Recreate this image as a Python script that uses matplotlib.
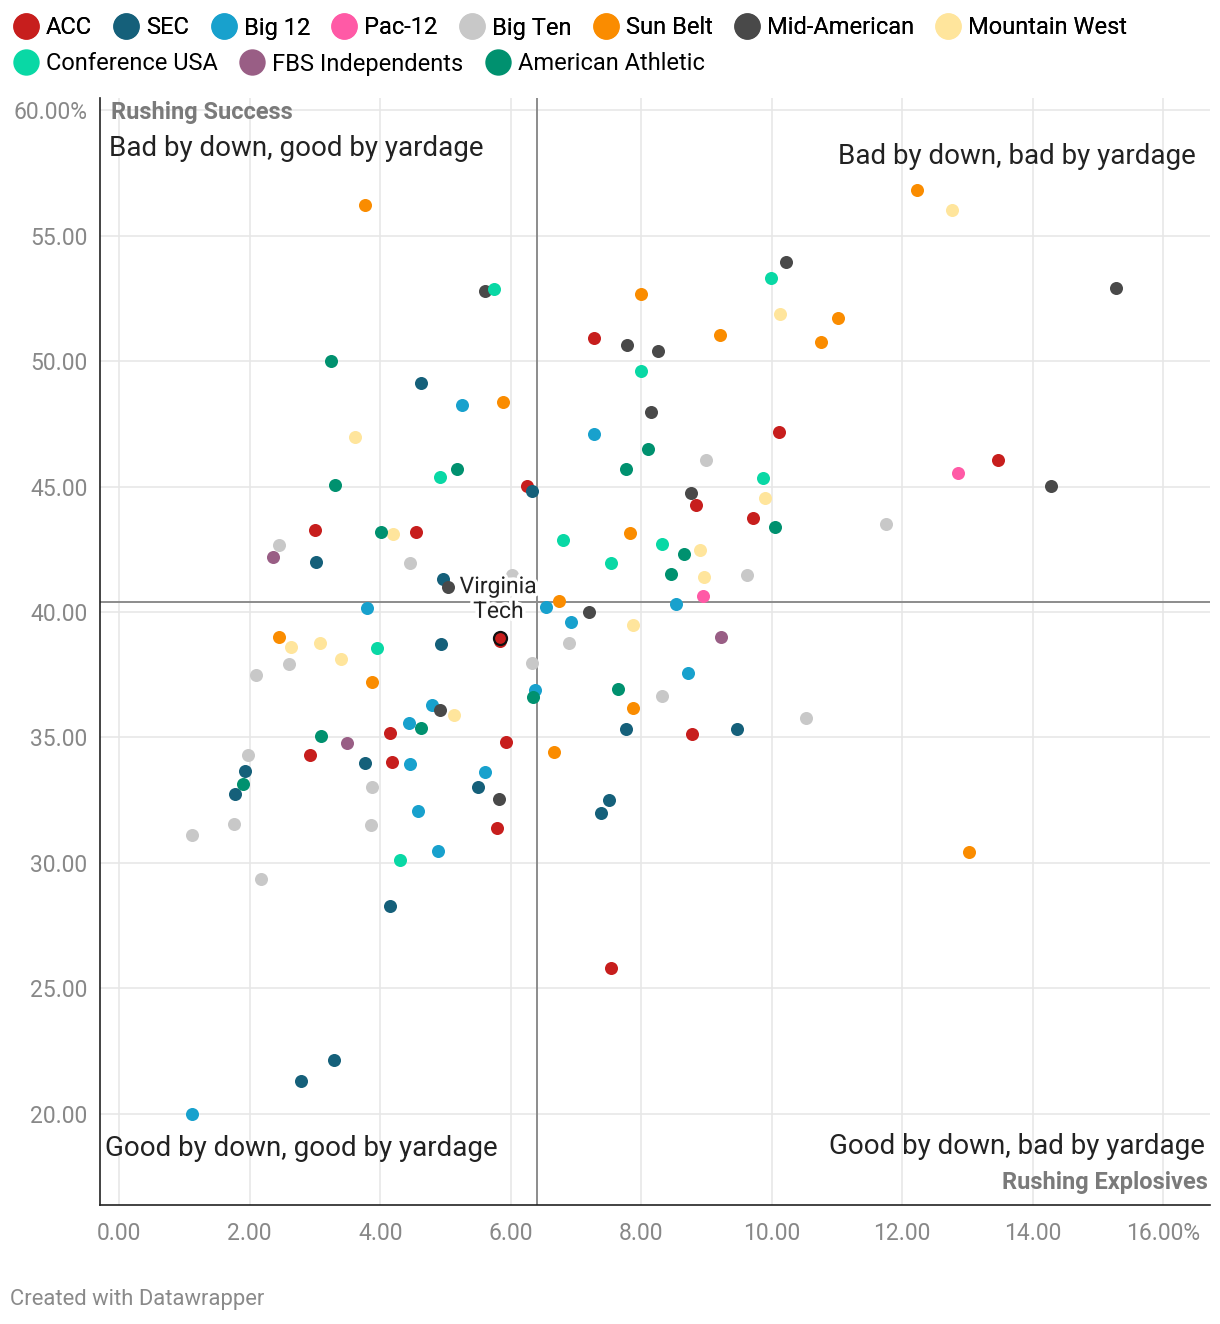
import matplotlib
matplotlib.use('Agg')
import matplotlib.pyplot as plt
from matplotlib.lines import Line2D
import matplotlib.patheffects as pe

plt.rcParams['font.family'] = ['Roboto', 'DejaVu Sans']

# conferenze e colori
conferences = ['ACC', 'SEC', 'Big 12', 'Pac-12', 'Big Ten', 'Sun Belt', 'Mid-American',
               'Mountain West', 'Conference USA', 'FBS Independents', 'American Athletic']
colors = ['#c71e1d', '#15607a', '#18a1cd', '#ff5aa6', '#c8c8c8', '#fa8c00', '#494949',
          '#ffe59c', '#09d8a5', '#995e85', '#00916f']

# x = rushing explosives (%), y = rushing success (%)
acc_x = [7.27, 10.11, 6.25, 8.84, 9.71, 3.00, 4.55, 13.47, 5.83, 4.15, 2.92, 4.18, 8.78, 5.93, 5.79, 7.53]
acc_y = [50.91, 47.19, 45.01, 44.25, 43.74, 43.28, 43.18, 46.06, 38.85, 35.17, 34.31, 34.03, 35.15, 34.81, 31.41, 25.83]
sec_x = [4.63, 6.32, 3.01, 4.96, 4.93, 3.77, 1.93, 1.78, 7.76, 9.47, 5.50, 7.50, 7.38, 4.15, 3.29, 2.79]
sec_y = [49.12, 44.81, 42.01, 41.32, 38.73, 33.97, 33.65, 32.75, 35.34, 35.34, 33.04, 32.50, 31.98, 28.29, 22.15, 21.31]
big12_x = [5.26, 7.28, 3.80, 6.54, 8.53, 6.93, 4.79, 4.44, 4.46, 4.58, 4.88, 6.38, 8.71, 5.61, 1.12]
big12_y = [48.25, 47.08, 40.15, 40.19, 40.31, 39.60, 36.31, 35.57, 33.93, 32.06, 30.49, 36.89, 37.58, 33.64, 20.01]
pac12_x = [8.94, 12.86]
pac12_y = [40.65, 45.53]
bigten_x = [8.99, 2.45, 4.46, 6.02, 9.62, 11.75, 6.90, 2.60, 2.09, 1.97, 3.88, 1.76, 3.86, 1.12, 2.18, 6.33, 8.32, 10.52]
bigten_y = [46.07, 42.67, 41.96, 41.48, 41.48, 43.52, 38.78, 37.92, 37.50, 34.31, 33.01, 31.57, 31.53, 31.10, 29.36, 37.98, 36.67, 35.79]
sunbelt_x = [3.76, 8.00, 11.01, 9.21, 10.76, 5.88, 12.22, 7.83, 6.74, 2.45, 3.88, 7.88, 6.67, 13.03]
sunbelt_y = [56.22, 52.66, 51.71, 51.05, 50.76, 48.37, 56.82, 43.14, 40.45, 39.02, 37.21, 36.19, 34.43, 30.44]
mac_x = [5.60, 10.22, 7.79, 8.26, 8.15, 15.27, 8.76, 14.28, 5.04, 7.20, 4.92, 5.82]
mac_y = [52.80, 53.96, 50.63, 50.40, 47.99, 52.93, 44.73, 45.04, 41.01, 40.00, 36.08, 32.56]
mw_x = [10.12, 12.76, 3.61, 4.19, 9.89, 8.90, 8.97, 7.88, 2.64, 3.07, 3.40, 5.13]
mw_y = [51.89, 56.02, 46.98, 43.11, 44.55, 42.47, 41.39, 39.48, 38.61, 38.78, 38.13, 35.91]
cusa_x = [5.75, 9.99, 8.00, 4.91, 9.87, 6.80, 8.32, 7.53, 3.95, 4.30]
cusa_y = [52.86, 53.31, 49.60, 45.39, 45.36, 42.86, 42.71, 41.94, 38.58, 30.12]
ind_x = [2.35, 9.22, 3.49]
ind_y = [42.18, 39.00, 34.78]
aac_x = [3.24, 3.31, 5.17, 4.01, 8.11, 7.76, 10.05, 8.65, 8.46, 3.10, 4.62, 1.89, 6.34, 7.64]
aac_y = [50.00, 45.05, 45.69, 43.20, 46.49, 45.69, 43.39, 42.31, 41.53, 35.06, 35.38, 33.14, 36.63, 36.95]

# Virginia Tech (evidenziato)
vt_x = 5.84
vt_y = 38.98

# medie (linee di riferimento)
avg_x = 6.40
avg_y = 40.40

xs = [acc_x, sec_x, big12_x, pac12_x, bigten_x, sunbelt_x, mac_x, mw_x, cusa_x, ind_x, aac_x]
ys = [acc_y, sec_y, big12_y, pac12_y, bigten_y, sunbelt_y, mac_y, mw_y, cusa_y, ind_y, aac_y]

W, H = 1220, 1324
fig = plt.figure(figsize=(W/100, H/100), dpi=100)

def fx(px):
    return px/W

def fy(py):
    return 1 - py/H

ax = fig.add_axes([fx(100), fy(1205), (1210-100)/W, (1205-98)/H])
ax.set_xlim(-0.294, 16.717)
ax.set_ylim(16.366, 60.488)

xt = list(range(0, 17, 2))
yt = list(range(20, 61, 5))
ax.set_xticks(xt)
ax.set_yticks(yt)
ax.set_xticklabels(['%.2f' % v + ('%' if v == xt[-1] else '') for v in xt])
ax.set_yticklabels(['%.2f' % v + ('%' if v == yt[-1] else '') for v in yt])
ax.tick_params(length=0, labelsize=16.5, labelcolor='#888888')
ax.tick_params(axis='y', pad=9)
ax.tick_params(axis='x', pad=12)
ax.grid(True, color='#e6e6e6', lw=1.1, zorder=0)
ax.set_axisbelow(True)
for s in ['top', 'right']:
    ax.spines[s].set_visible(False)
for s in ['left', 'bottom']:
    ax.spines[s].set_color('#222222')
    ax.spines[s].set_linewidth(1.2)

ax.axvline(avg_x, color='#8c8c8c', lw=1.4, zorder=1)
ax.axhline(avg_y, color='#8c8c8c', lw=1.4, zorder=1)

for x, y, c in zip(xs, ys, colors):
    ax.scatter(x, y, s=88, color=c, linewidths=0, zorder=3)

ax.scatter([vt_x], [vt_y], s=88, color=colors[0], edgecolors='#111111', linewidths=1.6, zorder=5)
ax.text(vt_x - 0.03, vt_y + 1.54, 'Virginia\nTech', ha='center', va='center', fontsize=16.5,
        color='#222222', linespacing=1.1, zorder=6,
        path_effects=[pe.withStroke(linewidth=5, foreground='white')])

# etichette dei quadranti
qsize = 20
fig.text(fx(109), fy(149), 'Bad by down, good by yardage', fontsize=qsize,
         color='#222222', ha='left', va='center')
fig.text(fx(1196), fy(157), 'Bad by down, bad by yardage', fontsize=qsize,
         color='#222222', ha='right', va='center')
fig.text(fx(105), fy(1148), 'Good by down, good by yardage', fontsize=qsize,
         color='#222222', ha='left', va='center')
fig.text(fx(1205), fy(1147), 'Good by down, bad by yardage', fontsize=qsize,
         color='#222222', ha='right', va='center')

fig.text(fx(111), fy(112), 'Rushing Success', fontsize=17, fontweight='bold',
         color='#7a7a7a', ha='left', va='center')
fig.text(fx(1208), fy(1182), 'Rushing Explosives', fontsize=17, fontweight='bold',
         color='#7a7a7a', ha='right', va='center')
fig.text(fx(10), fy(1299), 'Created with Datawrapper', fontsize=15.8, color='#8a8a8a',
         ha='left', va='center')

# legenda su due righe
handles = [Line2D([], [], marker='o', ls='none', markersize=19, markerfacecolor=c,
                  markeredgewidth=0) for c in colors]
lkw = dict(loc='center left', frameon=False, fontsize=17, handlelength=1.1,
           handletextpad=0.3, columnspacing=0.9, borderaxespad=0, borderpad=0)
leg1 = fig.legend(handles[:8], conferences[:8], ncol=8, bbox_to_anchor=(fx(13), fy(28)), **lkw)
fig.add_artist(leg1)
fig.legend(handles[8:], conferences[8:], ncol=3, bbox_to_anchor=(fx(13), fy(64)), **lkw)

fig.savefig('out.png', dpi=100)
